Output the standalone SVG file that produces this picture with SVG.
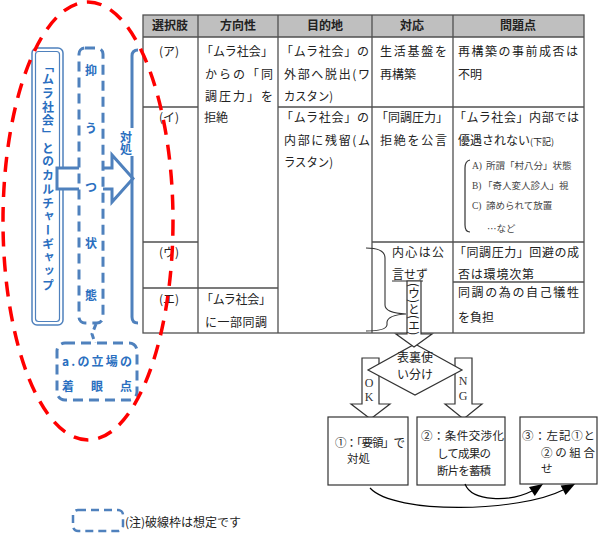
<svg xmlns="http://www.w3.org/2000/svg" width="603" height="535" viewBox="0 0 603 535">
<style>
text{font-family:"Noto Sans CJK JP","Noto Sans",sans-serif;fill:#222;font-size:12px}
.h{font-weight:bold;text-anchor:middle}
.c{text-anchor:middle}
.sm{font-size:9.5px;fill:#444}
.ser{font-family:"Liberation Serif",serif}
.bl{fill:#2a6fc0;font-weight:bold}
.grid{stroke:#505050;stroke-width:1.3;fill:none}
.blu{stroke:#4f81bd;fill:none}
.dash{stroke:#4f81bd;stroke-width:3;stroke-dasharray:10 6;fill:#fff}
.fl{fill:#fff;stroke:#333;stroke-width:1.2}
.bx{font-size:11.5px}
.lbl{font-family:"Liberation Serif",serif;font-size:12px;fill:#333;text-anchor:middle}
.vt{writing-mode:vertical-rl}
.ah{fill:#000;stroke:none}
</style>

<g id="table">
<rect x="143" y="15" width="441" height="22" fill="#bfbfbf"/>
<path class="grid" d="M143,37H584 M198,15V333 M278,15V333 M372,15V333 M453,15V333 M143,107H198 M278,107H584 M143,242H198 M372,242H584 M143,288H278 M453,282H584"/>
<rect x="143" y="15" width="441" height="318" class="grid" stroke-width="1.6"/>
<text class="h" x="170" y="30">選択肢</text>
<text class="h" x="238" y="30">方向性</text>
<text class="h" x="325" y="30">目的地</text>
<text class="h" x="412" y="30">対応</text>
<text class="h" x="518" y="30">問題点</text>
<text class="c" x="169" y="56">(ア)</text>
<text class="c" x="169" y="122">(イ)</text>
<text class="c" x="169" y="257">(ウ)</text>
<text class="c" x="169" y="304">(エ)</text>
<text x="201" y="56" textLength="72" lengthAdjust="spacing">「ムラ社会」</text>
<text x="205" y="79" textLength="68" lengthAdjust="spacing">からの「同</text>
<text x="205" y="101" textLength="68" lengthAdjust="spacing">調圧力」を</text>
<text x="204" y="122">拒絶</text>
<text x="201" y="304" textLength="70" lengthAdjust="spacing">「ムラ社会」</text>
<text x="205" y="327" textLength="62" lengthAdjust="spacing">に一部同調</text>
<text x="281" y="56" textLength="88" lengthAdjust="spacing">「ムラ社会」の</text>
<text x="284" y="79" textLength="86" lengthAdjust="spacing">外部へ脱出(ワ</text>
<text x="284" y="101" textLength="49" lengthAdjust="spacingAndGlyphs">カスタン)</text>
<text x="281" y="122" textLength="88" lengthAdjust="spacing">「ムラ社会」の</text>
<text x="284" y="145" textLength="86" lengthAdjust="spacing">内部に残留(ム</text>
<text x="284" y="167" textLength="49" lengthAdjust="spacingAndGlyphs">ラスタン)</text>
<text x="380" y="56" textLength="67" lengthAdjust="spacing">生活基盤を</text>
<text x="380" y="79">再構築</text>
<text x="376" y="122" textLength="72" lengthAdjust="spacing">「同調圧力」</text>
<text x="380" y="145" textLength="67" lengthAdjust="spacing">拒絶を公言</text>
<text x="392" y="257" textLength="52" lengthAdjust="spacing">内心は公</text>
<text x="392" y="279">言せず</text>
<text x="458" y="56" textLength="120" lengthAdjust="spacing">再構築の事前成否は</text>
<text x="458" y="79">不明</text>
<text x="454" y="122" textLength="125" lengthAdjust="spacing">「ムラ社会」内部では</text>
<text x="458" y="145"><tspan textLength="72" lengthAdjust="spacing">優遇されない</tspan><tspan font-size="9">(下記)</tspan></text>
<path d="M470,160 Q465,161 465,168 L465,225 Q465,232 470,232" fill="none" stroke="#333" stroke-width="1.2"/>
<text class="sm" x="472" y="169"><tspan class="ser">A)</tspan><tspan x="486">所謂「村八分」状態</tspan></text>
<text class="sm" x="472" y="189"><tspan class="ser">B)</tspan><tspan x="483">「奇人変人診人」視</tspan></text>
<text class="sm" x="472" y="209"><tspan class="ser">C)</tspan><tspan x="486">諦められて放置</tspan></text>
<text class="sm" x="487" y="232">…など</text>
<text x="454" y="257" textLength="125" lengthAdjust="spacing">「同調圧力」回避の成</text>
<text x="458" y="279" textLength="76" lengthAdjust="spacing">否は環境次第</text>
<text x="458" y="297" textLength="121" lengthAdjust="spacing">同調の為の自己犠牲</text>
<text x="458" y="322">を負担</text>
</g>

<g id="flow-arrows">
<polygon class="fl" points="362,358 379,358 379,404 390,404 370.5,419 351,404 362,404"/>
<polygon class="fl" points="455,358 472,358 472,404 482,404 463.5,419 445,404 455,404"/>
<text class="lbl" x="369" y="387">O</text>
<text class="lbl" x="369" y="401">K</text>
<text class="lbl" x="463" y="385">N</text>
<text class="lbl" x="463" y="400">G</text>
</g>

<g id="decision">
<polygon class="fl" points="415,344 462,370 415,395 368,370"/>
<text class="c" x="415" y="362" font-size="12.5">表裏使</text>
<text class="c" x="415" y="379" font-size="12.5">い分け</text>
</g>

<g id="brace">
<path d="M366,248 Q385,248 385,258 L385,305 Q385,313 406,314 Q388,315 387,322 L387,325 Q386,331 366,331" fill="none" stroke="#333" stroke-width="1.1"/>
</g>

<g id="u-e-arrow">
<line x1="392" y1="281" x2="423" y2="281" stroke="#333" stroke-width="1"/>
<polygon class="fl" points="407,281 421,281 421,334 432,334 414,347 396,334 407,334"/>
<text class="vt" x="414" y="283" font-size="11.5">(ウ)と(エ)</text>
</g>

<g id="box1">
<rect class="fl" x="328" y="417" width="80" height="68"/>
<text class="bx" x="335" y="447" textLength="70" lengthAdjust="spacing">①：「要領」で</text>
<text class="bx" x="347" y="463">対処</text>
</g>
<g id="box2">
<rect class="fl" x="417" y="417" width="88" height="68"/>
<text class="bx" x="421" y="440" textLength="83" lengthAdjust="spacing">②：条件交渉化</text>
<text class="bx" x="437" y="458" textLength="54" lengthAdjust="spacing">して成果の</text>
<text class="bx" x="437" y="475" textLength="54" lengthAdjust="spacing">断片を蓄積</text>
</g>
<g id="box3">
<rect class="fl" x="520" y="417" width="77" height="67"/>
<text class="bx" x="522" y="440" textLength="73" lengthAdjust="spacing">③：左記①と</text>
<text class="bx" x="541" y="457" textLength="54" lengthAdjust="spacing">②の組合</text>
<text class="bx" x="541" y="473">せ</text>
</g>

<g id="connectors">
<path d="M370,488 C395,515 520,512 563,490" fill="none" stroke="#000" stroke-width="1.2"/>
<polygon class="ah" points="575,484 565.6,495 560.6,485.5"/>
<path d="M465,484 C472,502 510,502 532,491" fill="none" stroke="#000" stroke-width="1.2"/>
<polygon class="ah" points="543,484 534.8,496 529,487"/>
</g>

<g id="culture-gap">
<rect class="blu" x="32" y="48" width="31" height="277" rx="5" stroke-width="1.5"/>
<rect class="blu" x="35.5" y="51.5" width="24" height="270" rx="3" stroke-width="1.2"/>
<text class="bl vt" x="48" y="60" font-size="13" style="letter-spacing:1.7px">「ムラ社会」とのカルチャーギャップ</text>
</g>

<g id="hollow-arrow">
<polygon points="57,168 112,168 112,155 133,178.5 112,202 112,189 57,189" fill="#fff" stroke="#4f81bd" stroke-width="3" stroke-linejoin="miter"/>
</g>

<g id="depression">
<rect class="dash" x="79" y="48" width="24" height="275" rx="6"/>
<text class="bl c" x="91" y="75" font-size="13">抑</text>
<text class="bl c" x="91" y="133" font-size="13">う</text>
<text class="bl c" x="91" y="192" font-size="13">つ</text>
<text class="bl c" x="91" y="248" font-size="13">状</text>
<text class="bl c" x="91" y="300" font-size="13">態</text>
</g>

<g id="coping">
<path d="M138,50 Q132,50 132,56 L132,317 Q132,323 138,323" fill="none" stroke="#4f81bd" stroke-width="3"/>
<rect x="118" y="128" width="19" height="28" fill="#fff"/>
<text class="bl vt" x="126" y="131" font-size="11">対処</text>
</g>

<g id="viewpoint">
<path d="M96,324 L92,334 L95,343" fill="none" stroke="#4f81bd" stroke-width="3" stroke-dasharray="6 4"/>
<rect class="dash" x="57" y="343" width="80" height="57" rx="8"/>
<text class="bl" x="62" y="366" textLength="70" lengthAdjust="spacing">a.の立場の</text>
<text class="bl c" x="68 97 126" y="391">着眼点</text>
</g>

<g id="red-ellipse">
<ellipse cx="88" cy="221" rx="85" ry="219" fill="none" stroke="#ff0000" stroke-width="3.5" stroke-dasharray="15 10"/>
</g>

<g id="legend">
<rect x="73" y="510" width="50" height="21" rx="5" fill="none" stroke="#4f81bd" stroke-width="2.5" stroke-dasharray="8 5"/>
<text x="125" y="527" font-size="10" fill="#444">(注)破線枠は想定です</text>
</g>
</svg>
